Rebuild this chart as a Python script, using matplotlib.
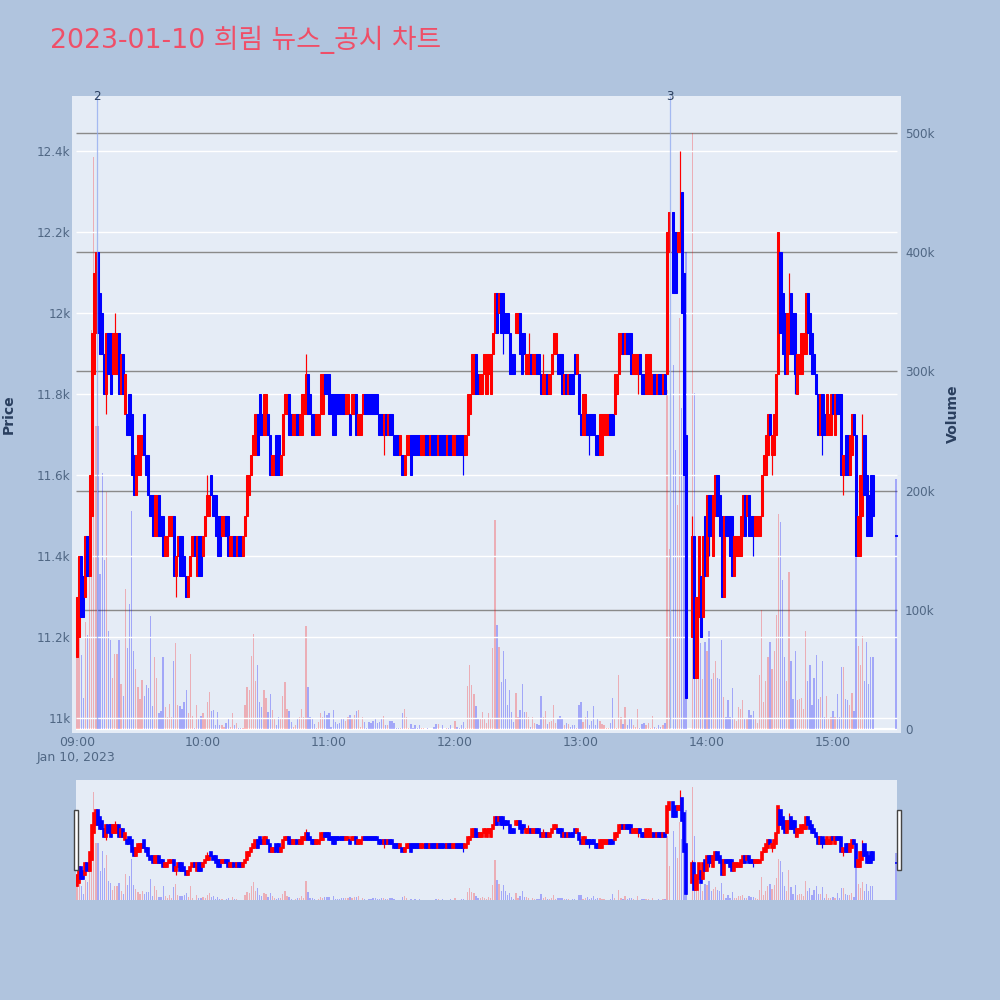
import numpy as np
import matplotlib
matplotlib.use("Agg")
import matplotlib.pyplot as plt

nan = float("nan")
TITLE = "2023-01-10 희림 뉴스_공시 차트"
# one entry per minute from 09:00; prices in units of 10 won, volume in thousands
opens = [
1115,1120,1140,1135,1130,1145,1135,1150,1185,1195,
1215,1205,1200,1190,1180,1195,1195,1185,1185,1185,
1195,1180,1190,1175,1175,1180,1175,1165,1155,1160,
1160,1165,1175,1165,1165,1155,1155,1145,1145,1155,
1150,1150,1140,1140,1145,1145,1150,1135,1140,1145,
1145,1140,1135,1130,1135,1140,1145,1135,1145,1145,
1140,1145,1150,1150,1160,1155,1155,1150,1150,1145,
1145,1150,1150,1140,1140,1145,1140,1145,1145,1140,
1145,1150,1155,1160,1165,1165,1175,1180,1175,1170,
1170,1175,1170,1160,1160,1170,1170,1160,1165,1175,
1175,1180,1175,1170,1170,1175,1170,1170,1175,1175,
1185,1180,1175,1175,1170,1170,1175,1175,1185,1185,
1185,1180,1180,1180,1180,1180,1180,1180,1175,1175,
1175,1175,1175,1180,1170,1170,1175,1180,1180,1180,
1180,1180,1180,1180,1175,1175,1170,1175,1170,1175,
1175,1170,1170,1170,1165,1165,1160,1165,1165,1170,
1170,1170,1170,1170,1165,1165,1170,1170,1165,1170,
1170,1170,1165,1170,1170,1170,1165,1170,1170,1165,
1165,1170,1170,1170,1170,1165,1170,1175,1180,1180,
1190,1185,1180,1180,1185,1180,1185,1180,1190,1195,
1205,1200,1205,1205,1200,1200,1195,1190,1190,1195,
1195,1200,1195,1195,1185,1185,1190,1185,1185,1190,
1190,1185,1180,1180,1185,1180,1185,1190,1190,1190,
1190,1190,1180,1185,1180,1185,1185,1190,1185,1185,
1175,1170,1170,1175,1175,1175,1175,1170,1170,1165,
1165,1170,1170,1170,1175,1175,1175,1180,1185,1190,
1195,1190,1195,1195,1195,1185,1185,1185,1190,1185,
1185,1180,1180,1180,1180,1185,1180,1185,1185,1180,
1185,1185,1215,nan,1225,1220,1215,1215,1230,1210,
1170,nan,nan,1120,1145,1110,1125,1135,1125,1150,
1135,1155,1155,1140,1150,1160,1155,1150,1130,1150,
1150,1150,1150,1135,1140,1140,1140,1145,1155,1150,
1155,1150,1150,1145,1145,1145,1150,1160,1160,1165,
1175,1165,1165,1170,1185,1215,1205,1200,1185,1190,
1205,1200,1200,1180,1185,1185,1190,1190,1205,1200,
1195,1190,1185,1180,1170,1180,1175,1170,1170,1170,
1180,1170,1180,1180,1180,1160,1170,1170,1160,1165,
1175,1170,1140,1140,1150,1170,1160,1155,1160,1160,
nan,nan,nan,nan,nan,nan,nan,nan,nan,nan,
1145]
closes = [
1130,1140,1125,1125,1145,1135,1160,1195,1210,1215,
1195,1190,1190,1180,1195,1185,1180,1195,1195,1195,
1180,1190,1180,1185,1170,1170,1160,1155,1165,1170,
1170,1170,1165,1160,1155,1150,1145,1155,1155,1145,
1145,1140,1145,1145,1150,1150,1135,1140,1145,1135,
1135,1135,1130,1135,1140,1145,1140,1145,1135,1135,
1145,1150,1155,1155,1155,1150,1145,1140,1140,1150,
1150,1145,1140,1145,1145,1140,1145,1140,1140,1145,
1150,1160,1160,1165,1170,1175,1165,1170,1170,1180,
1180,1170,1160,1165,1165,1160,1160,1165,1175,1180,
1180,1170,1170,1175,1175,1170,1175,1180,1180,1185,
1175,1175,1170,1170,1175,1175,1185,1185,1180,1180,
1175,1175,1170,1170,1175,1175,1175,1175,1180,1180,
1170,1180,1180,1170,1175,1175,1180,1175,1175,1175,
1175,1175,1175,1175,1170,1170,1175,1170,1175,1170,
1170,1165,1165,1165,1170,1160,1165,1170,1170,1160,
1165,1165,1165,1165,1170,1170,1165,1165,1170,1165,
1165,1165,1170,1165,1165,1165,1170,1165,1165,1170,
1170,1165,1165,1165,1165,1170,1180,1180,1190,1190,
1180,1180,1185,1185,1190,1190,1190,1190,1195,1205,
1195,1205,1195,1195,1195,1195,1185,1185,1185,1200,
1200,1190,1185,1190,1190,1190,1185,1190,1190,1185,
1185,1180,1185,1185,1180,1185,1190,1195,1195,1185,
1185,1180,1185,1180,1185,1180,1180,1185,1190,1175,
1170,1180,1180,1170,1170,1170,1170,1165,1165,1175,
1175,1175,1175,1175,1170,1170,1185,1185,1195,1195,
1190,1195,1190,1190,1185,1190,1190,1190,1185,1180,
1180,1190,1190,1190,1185,1180,1185,1180,1180,1185,
1180,1220,1225,nan,1205,1205,1220,1220,1200,1160,
1105,nan,nan,1145,1110,1130,1145,1120,1145,1135,
1155,1145,1145,1155,1160,1150,1145,1130,1150,1145,
1145,1140,1135,1145,1145,1145,1150,1155,1145,1155,
1145,1145,1145,1150,1150,1150,1160,1165,1170,1175,
1170,1170,1175,1185,1220,1195,1190,1185,1200,1200,
1190,1190,1185,1190,1190,1195,1195,1205,1195,1190,
1185,1185,1180,1170,1180,1170,1170,1180,1175,1180,
1175,1180,1175,1175,1160,1165,1160,1160,1170,1175,
1170,1140,1150,1160,1160,1155,1145,1145,1145,1150,
nan,nan,nan,nan,nan,nan,nan,nan,nan,nan,
1145]
high_minutes = [18, 62, 109, 215, 222, 287, 293, 339, 374]
high_values = [1200, 1160, 1190, 1195, 1190, 1240, 1150, 1210, 1175]
low_minutes = [14, 47, 146, 184, 203, 244, 267, 301, 322, 331, 342, 355, 365]
low_values = [1175, 1130, 1165, 1160, 1190, 1165, 1180, 1140, 1140, 1160, 1180, 1165, 1155]
volumes = [
62,90,62,26,90,79,210,335,480,254,
254,130,215,142,199,82,75,43,63,63,
75,38,28,117,68,105,183,65,50,35,
25,41,28,37,34,95,19,60,43,13,
15,60,18,10,21,10,57,72,20,19,
17,23,33,13,63,11,1,20,8,11,
13,9,23,31,15,16,3,14,3,3,
2,5,9,2,13,3,5,1,0.5,1,
20,35,33,61,80,40,54,23,18,33,
26,14,29,16,8,3,10,8,28,39,
17,15,6,2,3,8,10,17,10,86,
35,10,8,4,1,6,13,10,15,12,
13,2,16,6,4,5,8,8,7,10,
12,9,12,15,16,2,10,6,1,6,
5,7,8,5,6,9,11,3,3,7,
7,5,1,1,1,13,17,10,1,4,
1,3,1,3,1,0.5,0,1,0,0,
2,4,4,0,3,0,1,1,3,0,
7,2,1,3,6,1,36,54,37,29,
19,8,8,14,8,5,13,9,68,175,
87,69,39,65,42,20,33,14,6,30,
10,16,38,14,14,10,2,10,5,4,
3,28,10,15,4,6,7,20,5,9,
11,9,3,5,4,2,3,3,1,20,
23,6,10,15,3,7,19,3,8,7,
4,3,1,1,5,26,8,1,45,10,
4,18,3,8,8,3,2,17,1,4,
5,3,5,1,11,2,1,3,2,3,
5,284,151,0,305,234,188,345,269,368,
400,0,0,500,282,43,130,72,42,73,
65,82,42,47,57,43,42,75,27,10,
24,10,34,9,7,18,17,24,9,8,
16,12,15,9,5,45,100,23,40,60,
73,50,65,96,180,174,125,60,40,132,
57,25,65,24,25,26,17,82,40,54,
20,43,62,25,27,57,10,28,9,10,
15,10,29,10,52,52,25,24,20,30,
15,146,70,54,78,40,73,38,60,60,
0,0,0,0,0,0,0,0,0,0,
210]
price_ticks = [11000, 11200, 11400, 11600, 11800, 12000, 12200, 12400]
price_labels = ["11k", "11.2k", "11.4k", "11.6k", "11.8k", "12k", "12.2k", "12.4k"]
volume_ticks = [0, 100, 200, 300, 400, 500]
volume_labels = ["0", "100k", "200k", "300k", "400k", "500k"]
time_ticks = [0, 60, 120, 180, 240, 300, 360]
time_labels = ["09:00", "10:00", "11:00", "12:00", "13:00", "14:00", "15:00"]
news_minutes = [9.5, 282.4]
news_labels = ["2", "3"]

BG = "#B0C4DE"
PANEL = "#E5ECF6"
INK = "#2A3F5F"
TICK = "#506784"
FS = 12 * 0.72
plt.rcParams["font.family"] = ["DejaVu Sans"]

o = np.array(opens, float) * 10
c = np.array(closes, float) * 10
v = np.array(volumes, float)
m = np.arange(len(o))
hi = np.fmax(o, c)
lo = np.fmin(o, c)
hi[high_minutes] = np.array(high_values) * 10
lo[low_minutes] = np.array(low_values) * 10
up = c > o
ok = ~np.isnan(o)

PRICE_LIM = (10963, 12536)
VOL_LIM = (-3.4, 531)
X0, X1 = -0.5, 390.5

fig = plt.figure(figsize=(10, 10), dpi=100, facecolor=BG)


def box(x0, y0, x1, y1):
    return [x0 / 1000, 1 - y1 / 1000, (x1 - x0) / 1000, (y1 - y0) / 1000]


def draw_marks(a_vol, a_price, edge):
    a_vol.bar(m[up], v[up], width=0.6, color="#FF0000", alpha=0.26, linewidth=0, zorder=3)
    a_vol.bar(m[~up], v[~up], width=0.6, color="#0000FF", alpha=0.29, linewidth=0, zorder=3)
    for i in m[ok]:
        col = "#FF0000" if up[i] else "#0000FF"
        a_price.vlines(i, lo[i], hi[i], color=col, linewidth=0.85, zorder=4)
        top, bot = max(o[i], c[i]), min(o[i], c[i])
        a_price.bar(i, max(top - bot, 3), bottom=bot, width=1.0, color=col, edgecolor=col,
                    linewidth=edge, zorder=5)


# main panel
ax_vol = fig.add_axes(box(72, 96, 901, 733), facecolor=PANEL)
ax_price = fig.add_axes(box(72, 96, 901, 733), facecolor="none")
xl = (-5 / 2.1, 824 / 2.1)
for a in (ax_vol, ax_price):
    a.set_xlim(*xl)
    for s in a.spines.values():
        s.set_visible(False)
ax_vol.set_ylim(*VOL_LIM)
ax_price.set_ylim(*PRICE_LIM)

ax_vol.hlines([t for t in volume_ticks if t > 0], X0, X1, color="#8A8A8A", linewidth=1.0, zorder=2)
ax_vol.hlines(0, X0, X1, color="white", linewidth=1.6, zorder=2)
ax_price.hlines(price_ticks, X0, X1, color="white", linewidth=1.0, zorder=1)
draw_marks(ax_vol, ax_price, 0.75)

ax_price.vlines(news_minutes, PRICE_LIM[0] + 12, PRICE_LIM[1], color="#8FA8F0", linewidth=0.9, alpha=0.75, zorder=6)
for nx, nl in zip(news_minutes, news_labels):
    ax_price.text(nx, 1.0, nl, transform=ax_price.get_xaxis_transform(), ha="center", va="center",
                  fontsize=FS, color=INK, zorder=7, clip_on=False)

ax_price.set_yticks(price_ticks, price_labels)
ax_price.yaxis.tick_left()
ax_price.tick_params(axis="y", length=0, pad=1, labelsize=FS, labelcolor=TICK)
ax_price.set_xticks(time_ticks, time_labels)
ax_price.tick_params(axis="x", length=0, pad=2, labelsize=12.5 * 0.72, labelcolor=TICK)
ax_vol.set_xticks([])
ax_vol.set_yticks(volume_ticks, volume_labels)
ax_vol.yaxis.tick_right()
ax_vol.tick_params(axis="y", length=0, pad=3, labelsize=FS, labelcolor=TICK)

fig.text(9 / 1000, 1 - 414 / 1000, "Price", rotation=90, ha="center", va="center",
         fontsize=14 * 0.72, fontweight="bold", color=INK)
fig.text(953 / 1000, 1 - 414 / 1000, "Volume", rotation=90, ha="center", va="center",
         fontsize=14 * 0.72, fontweight="bold", color=INK)
fig.text(37 / 1000, 1 - 758 / 1000, "Jan 10, 2023", ha="left", va="center", fontsize=12.5 * 0.72, color=TICK)
fig.text(50 / 1000, 1 - 40 / 1000, TITLE, ha="left", va="center", fontsize=26.8 * 0.72, color="#EF4F68",
         family=["DejaVu Sans", "Noto Sans CJK KR"])

# range slider
sl_vol = fig.add_axes(box(76, 780, 897, 900), facecolor=PANEL)
sl_price = fig.add_axes(box(76, 780, 897, 900), facecolor="none")
for a in (sl_vol, sl_price):
    a.set_xlim(X0, X1)
    a.set_xticks([])
    a.set_yticks([])
    for s in a.spines.values():
        s.set_visible(False)
sl_vol.set_ylim(0, VOL_LIM[1])
sl_price.set_ylim(10973, PRICE_LIM[1])
draw_marks(sl_vol, sl_price, 1.2)

for hx in (73.5, 896.5):
    fig.add_artist(plt.Rectangle((hx / 1000, 1 - 870 / 1000), 4 / 1000, 60 / 1000, transform=fig.transFigure,
                                 facecolor="white", edgecolor="#444444", linewidth=1.0))

fig.savefig("out.png", dpi=100, facecolor=BG)
